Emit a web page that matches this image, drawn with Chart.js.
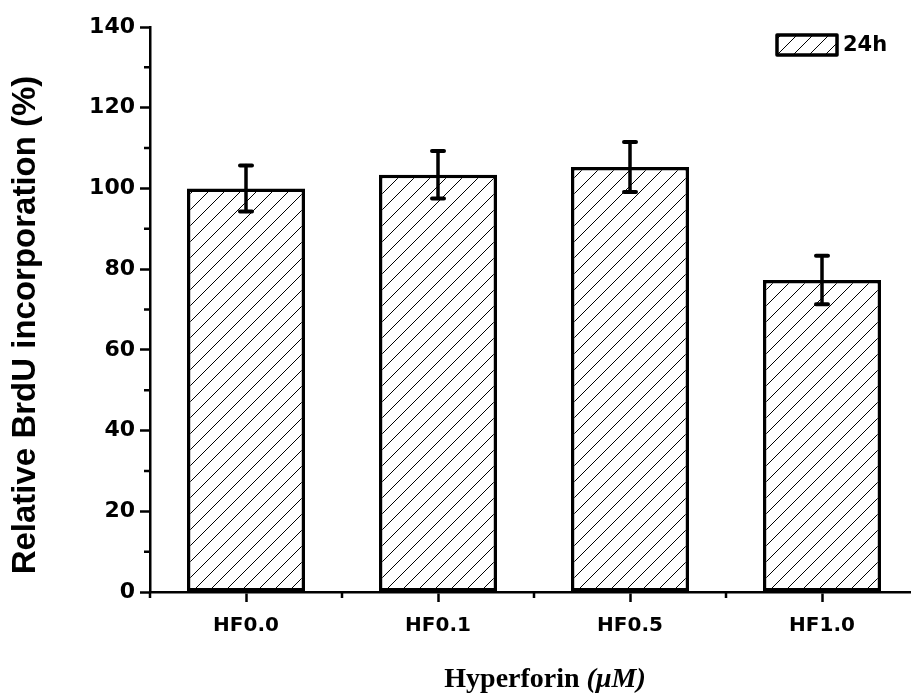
<!DOCTYPE html>
<html>
<head>
<meta charset="utf-8">
<script src="https://cdn.jsdelivr.net/npm/chart.js@4.4.1/dist/chart.umd.min.js"></script>
<style>
  html, body { margin: 0; padding: 0; background: #fff; overflow: hidden; }
  canvas { display: block; }
</style>
</head>
<body>
<canvas id="myChart" width="940" height="698"></canvas>
<script>
// datos
const categories = ['HF0.0', 'HF0.1', 'HF0.5', 'HF1.0'];
const values = [100.0, 103.4, 105.3, 77.3];
const errors = [5.7, 5.9, 6.2, 6.0];
const yTicks = [0, 20, 40, 60, 80, 100, 120, 140];
const yMinorTicks = [10, 30, 50, 70, 90, 110, 130];
const seriesLabel = '24h';
const yTitle = 'Relative BrdU incorporation (%)';

const sansFamily = "'Liberation Sans', Arial, sans-serif";
const wideFamily = "'DejaVu Sans', sans-serif";
const wideBold = { family: wideFamily, weight: 'bold' };

// patron de rayas diagonales
function makeHatch(size) {
    const c = document.createElement('canvas');
    c.width = size;
    c.height = size;
    const g = c.getContext('2d');
    g.fillStyle = '#fff';
    g.fillRect(0, 0, size, size);
    g.strokeStyle = '#000';
    g.lineWidth = 1;
    for (const k of [-size, 0, size]) {
        g.beginPath();
        g.moveTo(k, size);
        g.lineTo(k + size, 0);
        g.stroke();
    }
    return g.createPattern(c, 'repeat');
}
const ctx = document.getElementById('myChart').getContext('2d');
const hatch = makeHatch(16);

// barras de error
const errorBars = {
    id: 'errorBars',
    afterDatasetsDraw(chart) {
        const meta = chart.getDatasetMeta(0);
        const y = chart.scales.y;
        const c = chart.ctx;
        c.save();
        c.strokeStyle = '#000';
        c.lineCap = 'round';
        meta.data.forEach((bar, i) => {
            const top = y.getPixelForValue(values[i] + errors[i]);
            const bot = y.getPixelForValue(values[i] - errors[i]);
            c.lineWidth = 3.5;
            c.beginPath();
            c.moveTo(bar.x, top);
            c.lineTo(bar.x, bot);
            c.stroke();
            c.lineWidth = 4;
            c.beginPath();
            c.moveTo(bar.x - 6, top);
            c.lineTo(bar.x + 6, top);
            c.moveTo(bar.x - 6, bot);
            c.lineTo(bar.x + 6, bot);
            c.stroke();
        });
        c.restore();
    }
};

// marcas menores, leyenda y titulos
const extras = {
    id: 'extras',
    afterDraw(chart) {
        const c = chart.ctx;
        const x = chart.scales.x;
        const y = chart.scales.y;
        const area = chart.chartArea;
        c.save();
        c.strokeStyle = '#000';
        c.lineWidth = 2.5;
        c.beginPath();
        yMinorTicks.forEach(v => {
            const py = y.getPixelForValue(v);
            c.moveTo(area.left - 6, py);
            c.lineTo(area.left, py);
        });
        for (let i = 0; i <= categories.length; i++) {
            const px = x.getPixelForValue(i - 0.5);
            c.moveTo(px, area.bottom);
            c.lineTo(px, area.bottom + 6);
        }
        c.stroke();

        // leyenda
        const lx = 777, ly = 35, lw = 60, lh = 20;
        c.fillStyle = hatch;
        c.fillRect(lx, ly, lw, lh);
        c.lineWidth = 3.5;
        c.lineJoin = 'round';
        c.strokeRect(lx, ly, lw, lh);
        c.fillStyle = '#000';
        c.font = 'bold 21px ' + wideFamily;
        c.textBaseline = 'middle';
        c.textAlign = 'left';
        c.fillText(seriesLabel, 843, ly + lh / 2 + 1);

        // titulo eje y
        c.save();
        c.translate(26, 325);
        c.rotate(-Math.PI / 2);
        c.font = 'bold 33px ' + sansFamily;
        c.textAlign = 'center';
        c.textBaseline = 'middle';
        c.fillText(yTitle, 0, 0);
        c.restore();

        // titulo eje x
        const t1 = 'Hyperforin ';
        const t2 = '(\u03BCM)';
        const f1 = "bold 28px 'Liberation Serif', 'Times New Roman', serif";
        const f2 = "italic bold 28px 'Liberation Serif', 'Times New Roman', serif";
        c.font = f1;
        const w1 = c.measureText(t1).width;
        c.font = f2;
        const w2 = c.measureText(t2).width;
        const sx = 545 - (w1 + w2) / 2;
        c.textAlign = 'left';
        c.textBaseline = 'alphabetic';
        c.font = f1;
        c.fillText(t1, sx, 687);
        c.font = f2;
        c.fillText(t2, sx + w1, 687);
        c.restore();
    }
};

const myChart = new Chart(ctx, {
    type: 'bar',
    data: {
        labels: categories,
        datasets: [{
            label: seriesLabel,
            data: values,
            backgroundColor: hatch,
            borderColor: '#000',
            borderWidth: 3.5,
            borderSkipped: false,
            barPercentage: 0.615,
            categoryPercentage: 1
        }]
    },
    options: {
        responsive: false,
        animation: false,
        layout: { padding: { top: 27, right: 22, left: 0, bottom: 0 } },
        plugins: {
            legend: { display: false },
            tooltip: { enabled: false }
        },
        scales: {
            x: {
                offset: true,
                border: { display: true, color: '#000', width: 2.5 },
                grid: { offset: false, drawOnChartArea: false, tickLength: 10, tickWidth: 2.5, tickColor: '#000' },
                ticks: { color: '#000', font: { ...wideBold, size: 20 }, padding: 12, maxRotation: 0 },
                afterFit(scale) { scale.height = 106; }
            },
            y: {
                min: 0,
                max: 140,
                afterBuildTicks(scale) { scale.ticks = yTicks.map(v => ({ value: v })); },
                border: { display: true, color: '#000', width: 2.5 },
                grid: { drawOnChartArea: false, tickLength: 10, tickWidth: 2.5, tickColor: '#000' },
                ticks: { color: '#000', font: { ...wideBold, size: 22 }, padding: 5 },
                afterFit(scale) { scale.width = 150; }
            }
        }
    },
    plugins: [errorBars, extras]
});
</script>
</body>
</html>
